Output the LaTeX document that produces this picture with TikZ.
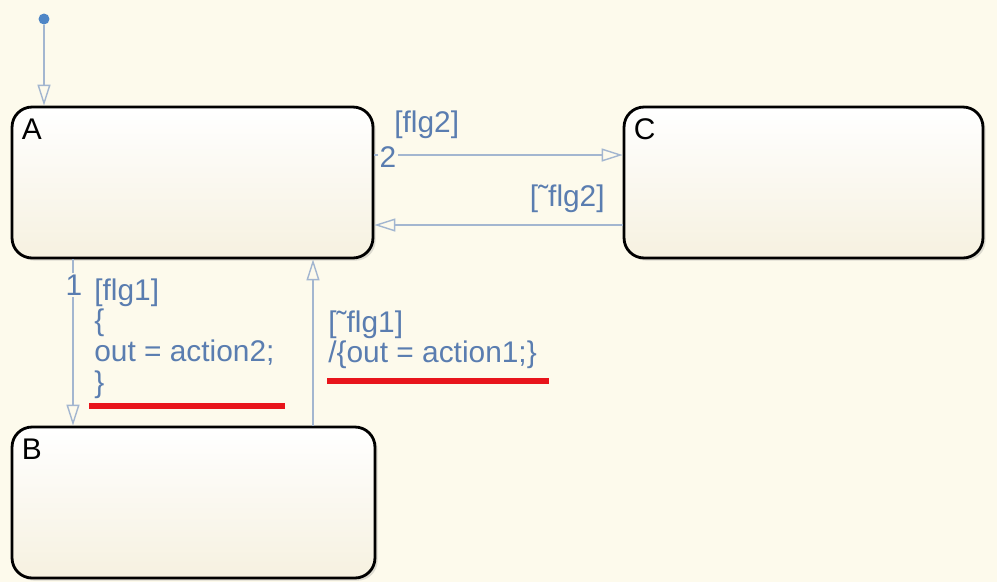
\documentclass[tikz,border=0pt]{standalone}
\usepackage{fontspec}
\setmainfont{Liberation Sans}
\usetikzlibrary{
arrows.meta,
positioning,
calc,
shadows
}
\definecolor{ChartBg}{HTML}{FDFAEC}
\definecolor{StateShade}{HTML}{F6F1E0}
\definecolor{TransLine}{HTML}{A3B6D0}
\definecolor{TransText}{HTML}{5A7DB0}
\definecolor{InitDot}{HTML}{4F86C6}
\definecolor{MarkRed}{HTML}{E8141B}

\begin{document}
\begin{tikzpicture}[
    x=0.02cm,
    y=-0.02cm,
    font=\fontsize{17}{17.5}\selectfont,
    >={Triangle[open,length=0.42cm,width=0.26cm]},
    state/.style={
        draw=black,
        line width=1.6pt,
        rounded corners=0.4cm,
        top color=white,
        bottom color=StateShade,
        drop shadow={opacity=0.25,shadow xshift=1.5pt,shadow yshift=-1.5pt},
        minimum height=3.02cm,
        inner sep=0pt
    },
    statename/.style={
        anchor=north west,
        inner sep=0pt,
        font=\fontsize{17}{17}\selectfont,
        text=black
    },
    trans/.style={
        ->,
        draw=TransLine,
        line width=0.8pt
    },
    guard/.style={
        text=TransText,
        inner sep=0pt,
        align=left
    },
    prio/.style={
        text=TransText,
        fill=ChartBg,
        inner sep=1pt
    },
    redmark/.style={
        MarkRed,
        line width=3pt
    }
]

% =====================================================
% BACKGROUND
% =====================================================
\fill[ChartBg] (0,0) rectangle (997,582);
\useasboundingbox (0,0) rectangle (997,582);

% =====================================================
% STATES
% =====================================================
\node[state, minimum width=7.22cm] (A) at (192.5,182.5) {};
\node[state, minimum width=7.18cm] (C) at (803.5,182.5) {};
\node[state, minimum width=7.26cm] (B) at (193.5,502.5) {};

\node[statename] (Aname) at ([xshift=0.22cm,yshift=-0.26cm]A.north west) {A};
\node[statename] (Cname) at ([xshift=0.22cm,yshift=-0.26cm]C.north west) {C};
\node[statename] (Bname) at ([xshift=0.22cm,yshift=-0.26cm]B.north west) {B};

% =====================================================
% DEFAULT TRANSITION
% =====================================================
\node[
    circle,
    fill=InitDot,
    inner sep=0pt,
    minimum size=0.22cm
]
(init)
at (44,19)
{};

\draw[trans] (init) -- (A.north -| init);

% =====================================================
% TRANSITIONS A <-> C
% =====================================================
\coordinate (yAC) at (0,155);
\coordinate (yCA) at (0,225);

\draw[trans] (A.east |- yAC) -- (C.west |- yAC);
\draw[trans] (C.west |- yCA) -- (A.east |- yCA);

\node[prio, anchor=base] (p2) at (388,167) {2};
\node[guard, anchor=base west] (g2) at (394,132) {[flg2]};
\node[guard, anchor=base east] (gn2) at (605,206) {[˜flg2]};

% =====================================================
% TRANSITIONS A <-> B
% =====================================================
\coordinate (xAB) at (73,0);
\coordinate (xBA) at (313,0);

\draw[trans] (A.south -| xAB) -- (B.north -| xAB);
\draw[trans] (B.north -| xBA) -- (A.south -| xBA);

\node[prio, anchor=base] (p1) at (74,295) {1};

\node[guard, anchor=north west] (g1) at (94,278)
{[flg1]\\\{\\out = action2;\\\}};

\node[guard, anchor=north west] (gn1) at (328,310)
{[˜flg1]\\/\{out = action1;\}};

% =====================================================
% RED MARKS
% =====================================================
\draw[redmark] (89,406) -- (285,406);
\draw[redmark] (327,381) -- (549,381);

\end{tikzpicture}
\end{document}
